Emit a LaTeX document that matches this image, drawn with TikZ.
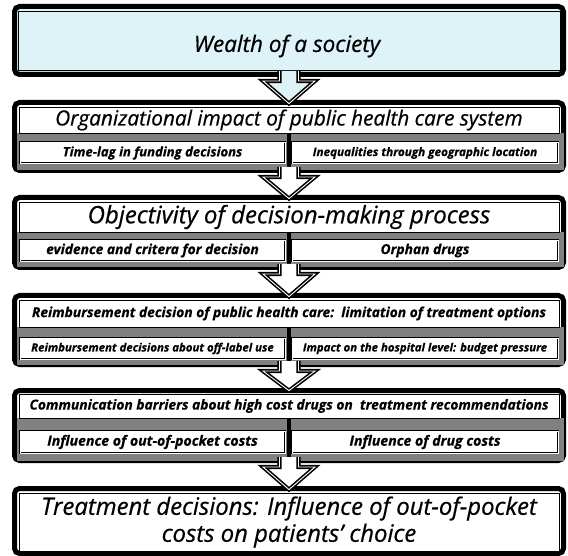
\documentclass[tikz,border=0pt]{standalone}
\usepackage{fontspec}
\setmainfont{Open Sans}[FakeBold=0.6]
\usetikzlibrary{calc}

\definecolor{paleblue}{HTML}{DDF3F8}
\definecolor{halftone}{gray}{0.5}

% block arrow from the bottom of one box into the top strip of the next
\newcommand\flowarrow[3]{%
  \filldraw[flowarrow,fill=#3] let \p1=(#1.south), \p2=(#2.north) in
    (\x1-9.5pt,\y1+6pt) -- (\x1-9.5pt,\y1-4pt) -- (\x1-26pt,\y1-4pt)
    -- (\x1,\y2+3pt) -- (\x1+26pt,\y1-4pt) -- (\x1+9.5pt,\y1-4pt)
    -- (\x1+9.5pt,\y1+6pt);}

\begin{document}
\begin{tikzpicture}[x=1pt,y=-1pt,
    outerbox/.style={draw=black,line width=5pt,rounded corners=5pt,fill=white,
      minimum width=549pt,inner sep=0pt},
    topbox/.style={draw=black,line width=0.8pt,fill=white,minimum width=540pt,inner sep=0pt},
    subbox/.style={draw=black,line width=0.6pt,double=white,double distance=0.8pt,
      fill=white,minimum height=21pt,inner sep=0pt},
    leftsub/.style={subbox,minimum width=265pt},
    rightsub/.style={subbox,minimum width=266pt},
    flowarrow/.style={draw=black,line width=1.6pt,double=white,double distance=0.9pt,
      line join=miter},
    divider/.style={draw=black,line width=4pt},
    headtxt/.style={font=\fontsize{#1}{#1}\selectfont\itshape},
    boldtxt/.style={font=\fontsize{#1}{#1}\selectfont\bfseries\itshape}]
    \useasboundingbox (0,0) rectangle (568,556);

    \node[outerbox,fill=paleblue,minimum height=68pt] (society) at (289,40.5) {};
    \node[draw=black,line width=0.8pt,minimum width=542pt,minimum height=59pt] (societyin) at (289,41) {};
    \node[headtxt=22.5] (wealth) at (287,46) {Wealth of a society};

    \node[outerbox,minimum height=68pt] (system) at (289,136.5) {};
    \fill[halftone] (17,133) rectangle ($(system.south east)+(-2.5,-2.5)$);
    \draw[divider] (288.5,133) -- (288.5,170);
    \node[topbox,minimum height=26pt,headtxt=20.8] (org) at (289,120) {Organizational impact of public health care system};
    \node[leftsub,boldtxt=13.1] (timelag) at (152.5,153) {Time-lag in funding decisions};
    \node[rightsub,boldtxt=11.7] (location) at (425,153) {Inequalities through geographic location};

    \node[outerbox,minimum height=70pt] (process) at (289,232.5) {};
    \fill[halftone] (17,232) rectangle ($(process.south east)+(-2.5,-2.5)$);
    \draw[divider] (288.5,232) -- (288.5,266);
    \node[topbox,minimum height=30pt,headtxt=24] (objectivity) at (289,217) {Objectivity of decision-making process};
    \node[leftsub,boldtxt=13.8] (evidence) at (152.5,250.5) {evidence and critera for decision};
    \node[rightsub,boldtxt=13.8] (orphan) at (425,250.5) {Orphan drugs};

    \node[outerbox,minimum height=69pt] (public) at (289,330) {};
    \fill[halftone] (17,327) rectangle ($(public.south east)+(-2.5,-2.5)$);
    \draw[divider] (288.5,327) -- (288.5,363);
    \node[topbox,minimum height=27pt,boldtxt=13.8] (reimburse) at (289,313.5) {Reimbursement decision of public health care:\ \ limitation of treatment options};
    \node[leftsub,boldtxt=11.4] (offlabel) at (152.5,348.5) {Reimbursement decisions about off-label use};
    \node[rightsub,boldtxt=11.4] (hospital) at (425,348.5) {Impact on the hospital level: budget pressure};

    \node[outerbox,minimum height=70pt] (barriers) at (289,425.5) {};
    \fill[halftone] (17,418) rectangle ($(barriers.south east)+(-2.5,-2.5)$);
    \draw[divider] (288.5,418) -- (288.5,459);
    \node[topbox,minimum height=24pt,boldtxt=13.8] (communication) at (289,406) {Communication barriers about high cost drugs on\ \ treatment recommendations};
    \node[leftsub,minimum height=22pt,boldtxt=14.1] (pocket) at (152.5,442) {Influence of out-of-pocket costs};
    \node[rightsub,minimum height=22pt,boldtxt=14.1] (drugcost) at (425,442) {Influence of drug costs};

    \node[outerbox,minimum height=65pt] (choice) at (289,521) {};
    \node[topbox,minimum height=58pt,align=center,font=\fontsize{23.9}{27}\selectfont\itshape] (treatment) at (289,522)
      {Treatment decisions: Influence of out-of-pocket\\costs on patients’ choice};

    \flowarrow{society}{org}{paleblue}
    \flowarrow{system}{objectivity}{white}
    \flowarrow{process}{reimburse}{white}
    \flowarrow{public}{communication}{white}
    \flowarrow{barriers}{treatment}{white}
\end{tikzpicture}
\end{document}
